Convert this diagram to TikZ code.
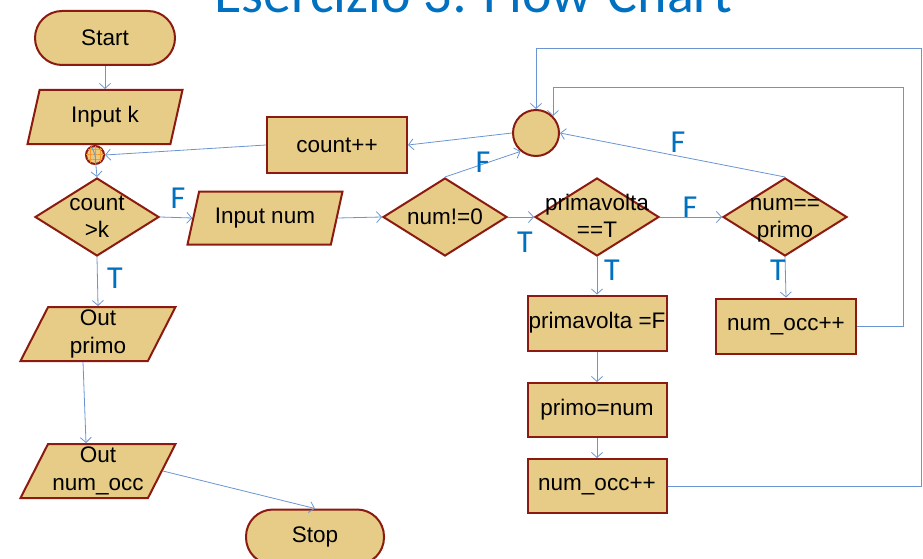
\documentclass[tikz,border=0pt]{standalone}
\usepackage{fontspec}
\setmainfont{Liberation Sans}
\newfontfamily\tffont{Carlito}
\usetikzlibrary{arrows.meta}
\usetikzlibrary{shapes.geometric}
\usetikzlibrary{patterns.meta}

\definecolor{boxfill}{HTML}{E6CC86}
\definecolor{boxline}{HTML}{8B1A10}
\definecolor{wirec}{HTML}{6A95D2}
\definecolor{tfblue}{HTML}{0070C0}

% text of a decision box, kept out of the box size
\newcommand{\dtext}[1]{\smash{\makebox[0pt]{\raisebox{-.3em}{\begin{tabular}{@{}c@{}}#1\end{tabular}}}}}

\tikzset{
  blk/.style={draw=boxline, fill=boxfill, line width=2pt, inner sep=0pt,
    font=\fontsize{22.5}{27.5}\selectfont},
  term/.style={blk, rectangle, rounded corners=27pt, minimum width=140pt, minimum height=54pt},
  proc/.style={blk, rectangle, minimum width=140pt, minimum height=55pt},
  io/.style={blk, trapezium, trapezium left angle=60, trapezium right angle=120,
    trapezium stretches body, minimum width=155pt, minimum height=54pt, align=center},
  dec/.style={blk, diamond, minimum width=124pt, minimum height=78pt},
  joint/.style={blk, circle, minimum size=#1},
  wire/.style={draw=wirec, line width=0.8pt, -{Straight Barb[length=5pt,width=11pt]}},
  tf/.style={text=tfblue, inner sep=0pt, font=\tffont\fontsize{32}{32}\selectfont}
}

\begin{document}
\begin{tikzpicture}[x=1pt, y=-1pt]

      \useasboundingbox (0,0) rectangle (923,559);

      \node[anchor=base west, inner sep=0pt, text=tfblue,
        font=\tffont\fontsize{56}{56}\selectfont] (title) at (214,13) {Esercizio 3: Flow-Chart};

      % left column
      \node[term] (start) at (105,38) {Start};
      \node[io] (ink) at (105,117) {Input k};
      \node[joint=18pt, postaction={pattern={Hatch[angle=0,distance=5pt,line width=0.6pt]},
        pattern color=orange!70!boxfill}] (jn) at (95,155) {};
      \node[dec] (cntk) at (97,217) {\dtext{count\\>k}};
      \node[io] (outp) at (98,334) {Out\\primo};
      \node[io] (outn) at (98,471) {Out\\num\_occ};
      \node[term, minimum width=138pt, minimum height=55pt] (stop) at (315,537) {Stop};

      % main row
      \node[io, minimum height=53pt] (inn) at (265,218) {Input num};
      \node[proc] (cpp) at (337,145) {count++};
      \node[joint=46pt] (cir) at (536,133) {};
      \node[dec] (nz) at (445,217) {\dtext{num!=0}};
      \node[dec] (pv) at (597,217) {\dtext{primavolta\\==T}};
      \node[dec] (np) at (785,217) {\dtext{num==\\primo}};

      % right side boxes
      \node[proc, minimum width=139pt] (pvf) at (597,323) {primavolta =F};
      \node[proc, minimum width=139pt, minimum height=54pt] (prn) at (597,410) {primo=num};
      \node[proc, minimum width=139pt, minimum height=54pt] (occa) at (597,486) {num\_occ++};
      \node[proc] (occb) at (786,326) {num\_occ++};

      \coordinate (r1) at (903,87);
      \coordinate (r2) at (921,48);

      \draw[wire] (start) -- (ink);
      \draw[wire] ([xshift=-14pt]ink.south) -- (jn.center) -- (cntk.north);
      \draw[wire] (cpp.west) -- (jn.east);
      \draw[wire] (cntk.east) -- (inn.west);
      \draw[wire] (inn.east) -- (nz.west);
      \draw[wire] (nz.north) -- (cir.230);
      \draw[wire] (nz.east) -- (pv.west);
      \draw[wire] (pv.east) -- (np.west);
      \draw[wire] (np.north) -- (cir.east);
      \draw[wire] (cir.west) -- (cpp.east);
      \draw[wire] (pv.south) -- (pvf.north);
      \draw[wire] (pvf) -- (prn);
      \draw[wire] (prn) -- (occa);
      \draw[wire] (np.south) -- (occb.north);
      \draw[wire] (occb.east) -| (r1) -| (cir.45);
      \draw[wire] (occa.east) -| (r2) -| (cir.north);
      \draw[wire] (cntk.south) -- (outp.north);
      \draw[wire] ([xshift=-15pt]outp.south) -- ([xshift=-12pt]outn.north);
      \draw[wire] (outn.east) -- (stop.north);

      % T / F labels
      \node[tf] (f1) at (178,198) {F};
      \node[tf] (t1) at (115,278) {T};
      \node[tf] (f2) at (483,162) {F};
      \node[tf] (t2) at (525,242) {T};
      \node[tf] (f3) at (690,207) {F};
      \node[tf] (f4) at (678,142) {F};
      \node[tf] (t3) at (612,270) {T};
      \node[tf] (t4) at (778,270) {T};
    \end{tikzpicture}
\end{document}
